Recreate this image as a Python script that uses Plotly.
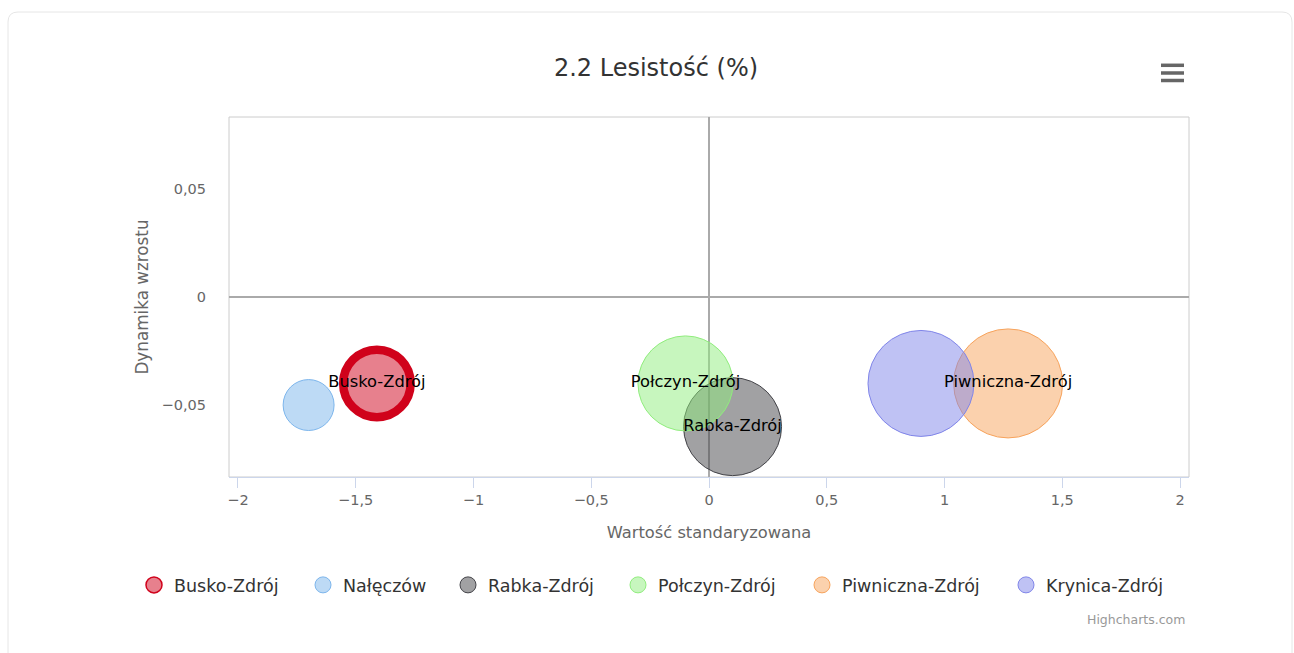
import plotly.graph_objects as go

# ---------------- data ----------------
cities = ["Busko-Zdrój", "Nałęczów", "Rabka-Zdrój", "Połczyn-Zdrój", "Piwniczna-Zdrój", "Krynica-Zdrój"]
std_value = [-1.41, -1.70, 0.10, -0.10, 1.27, 0.90]          # Wartość standaryzowana
growth = [-0.040, -0.050, -0.060, -0.040, -0.040, -0.040]    # Dynamika wzrostu
forest_share = [23.0, 13.1, 48.5, 45.6, 60.0, 56.7]          # bubble size value (z)
label_shown = [True, False, True, True, True, False]

x_tick_values = [-2, -1.5, -1, -0.5, 0, 0.5, 1, 1.5, 2]
x_tick_labels = ["−2", "−1,5", "−1", "−0,5", "0", "0,5", "1", "1,5", "2"]
y_tick_values = [-0.05, 0, 0.05]
y_tick_labels = ["−0,05", "0", "0,05"]

title_text = "2.2 Lesistość (%)"
x_title = "Wartość standaryzowana"
y_title = "Dynamika wzrostu"

# ---------------- styles ----------------
FONT = "DejaVu Sans"
W, H = 1294, 653
ML, MR, MT, MB = 229, 105, 117, 176
PW, PH = W - ML - MR, H - MT - MB

rgb = [(208, 2, 27), (124, 181, 236), (67, 67, 72), (144, 237, 125), (247, 163, 92), (128, 133, 233)]
line_w = [8.5, 1, 1, 1, 1, 1]
legend_line_w = [1.5, 1, 1, 1, 1, 1]
legend_text_px = [174, 343, 488, 658, 842, 1046]

def px_x(p):
    return (p - ML) / PW

def px_y(p):
    return (MT + PH - p) / PH

max_diam = 109
sizeref = 2.0 * max(forest_share) / max_diam ** 2

fig = go.Figure()

for i, name in enumerate(cities):
    r, g, b = rgb[i]
    fig.add_trace(go.Scatter(
        x=[std_value[i]], y=[growth[i]], mode="markers", name=name,
        marker=dict(size=[forest_share[i]], sizemode="area", sizeref=sizeref, opacity=1,
                    color=f"rgba({r},{g},{b},0.5)",
                    line=dict(color=f"rgb({r},{g},{b})", width=line_w[i])),
        showlegend=False, hoverinfo="skip",
    ))

# data labels on top of all bubbles
lx = [std_value[i] for i in range(len(cities)) if label_shown[i]]
ly = [growth[i] for i in range(len(cities)) if label_shown[i]]
lt = [cities[i] for i in range(len(cities)) if label_shown[i]]
fig.add_trace(go.Scatter(x=lx, y=ly, text=lt, mode="text", textposition="middle center",
                         textfont=dict(family=FONT, size=16.3, color="#000000"),
                         showlegend=False, hoverinfo="skip"))

# legend entries (each in its own legend box to reproduce spacing)
for i, name in enumerate(cities):
    r, g, b = rgb[i]
    lg = "legend" if i == 0 else f"legend{i+1}"
    fig.add_trace(go.Scatter(
        x=[None], y=[None], mode="markers", name=name, legend=lg,
        marker=dict(size=16, opacity=1, color=f"rgba({r},{g},{b},0.5)",
                    line=dict(color=f"rgb({r},{g},{b})", width=legend_line_w[i])),
        showlegend=True,
    ))

layout_legends = {}
for i in range(len(cities)):
    lg = "legend" if i == 0 else f"legend{i+1}"
    layout_legends[lg] = dict(
        x=px_x(legend_text_px[i] - 40), y=px_y(585), xanchor="left", yanchor="middle",
        orientation="h", bgcolor="rgba(0,0,0,0)", borderwidth=0,
        font=dict(family=FONT, size=17.5, color="#333333"),
    )

shapes = [
    # plot border
    dict(type="rect", xref="paper", yref="paper", x0=0, x1=1, y0=0, y1=1,
         line=dict(color="#cccccc", width=1), layer="below"),
    # container border
    dict(type="path", xref="paper", yref="paper", layer="below",
         path=(f"M {px_x(8)},{px_y(700)} L {px_x(8)},{px_y(22)} "
               f"Q {px_x(8)},{px_y(12)} {px_x(18)},{px_y(12)} "
               f"L {px_x(1282)},{px_y(12)} Q {px_x(1292)},{px_y(12)} {px_x(1292)},{px_y(22)} "
               f"L {px_x(1292)},{px_y(700)}"),
         line=dict(color="#e6e6e6", width=1)),
]
# hamburger menu icon
for yy in (65.3, 73, 80.5):
    shapes.append(dict(type="line", xref="paper", yref="paper",
                       x0=px_x(1161), x1=px_x(1184), y0=px_y(yy), y1=px_y(yy),
                       line=dict(color="#666666", width=3.5)))

fig.update_layout(
    width=W, height=H, margin=dict(l=ML, r=MR, t=MT, b=MB),
    paper_bgcolor="white", plot_bgcolor="white",
    font=dict(family=FONT, color="#666666"),
    title=dict(text=title_text, x=656 / W, xanchor="center", xref="container",
               y=1 - 68 / H, yanchor="middle", yref="container",
               font=dict(family=FONT, size=24, color="#333333")),
    xaxis=dict(range=[-2.038, 2.038], tickvals=x_tick_values, ticktext=x_tick_labels,
               showgrid=False, zeroline=True, zerolinecolor="#aaaaaa", zerolinewidth=2,
               showline=True, linecolor="#ccd6eb", linewidth=1,
               ticks="outside", ticklen=10, tickcolor="#ccd6eb", tickwidth=1,
               tickfont=dict(family=FONT, size=14.5, color="#666666"),
               title=dict(text=x_title, standoff=19, font=dict(family=FONT, size=16.3, color="#666666"))),
    yaxis=dict(range=[-0.0833, 0.0833], tickvals=y_tick_values, ticktext=y_tick_labels,
               showgrid=False, zeroline=True, zerolinecolor="#aaaaaa", zerolinewidth=2,
               showline=False, ticks="", ticklabelstandoff=22,
               tickfont=dict(family=FONT, size=14.5, color="#666666"),
               title=dict(text=y_title, standoff=8, font=dict(family=FONT, size=16.8, color="#666666"))),
    shapes=shapes,
    annotations=[dict(text="Highcharts.com", xref="paper", yref="paper",
                      x=px_x(1187), y=px_y(619), xanchor="right", yanchor="middle",
                      showarrow=False, font=dict(family=FONT, size=12.5, color="#999999"))],
    **layout_legends,
)

fig.write_html("out.html", config={"displayModeBar": False},
               post_script="document.body.style.margin='0';")
